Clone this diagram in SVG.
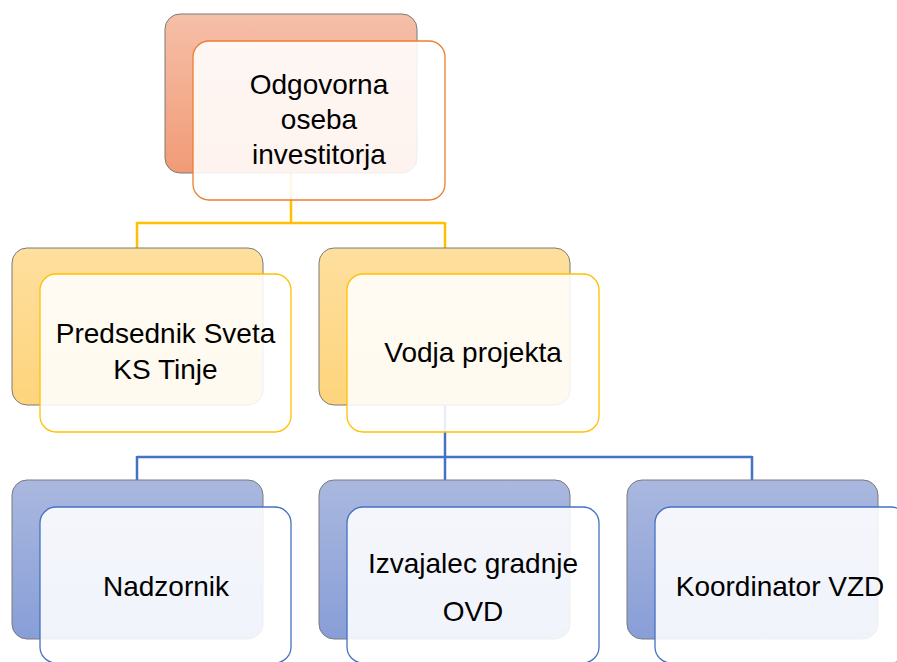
<svg xmlns="http://www.w3.org/2000/svg" width="897" height="662" viewBox="0 0 897 662">
  <defs>
    <linearGradient id="gOrange" x1="0" y1="0" x2="0" y2="1">
      <stop offset="0" stop-color="#F5BFA8"/>
      <stop offset="1" stop-color="#F19B76"/>
    </linearGradient>
    <linearGradient id="gYellow" x1="0" y1="0" x2="0" y2="1">
      <stop offset="0" stop-color="#FEDF9E"/>
      <stop offset="1" stop-color="#FED47C"/>
    </linearGradient>
    <linearGradient id="gBlue" x1="0" y1="0" x2="0" y2="1">
      <stop offset="0" stop-color="#AAB8DF"/>
      <stop offset="1" stop-color="#889ED7"/>
    </linearGradient>
  </defs>
  <style>
    .back { stroke: #7a7a7a; stroke-width: 1; }
    .front { stroke-width: 1.3; fill: #FFFFFF; fill-opacity: 0.88; }
    .o .back { fill: url(#gOrange); }
    .o .front { stroke: #ED7D31; }
    .y .back { fill: url(#gYellow); }
    .y .front { stroke: #FFC000; }
    .b .back { fill: url(#gBlue); }
    .b .front { stroke: #4472C4; }
    .lbl { font-family: "Liberation Sans", Arial, sans-serif; font-size: 28px; fill: #000; text-anchor: middle; }
    .cy { fill: none; stroke: #FFC000; stroke-width: 2.5; }
    .cb { fill: none; stroke: #4472C4; stroke-width: 2.5; }
  </style>

  <g id="connectors">
    <path class="cy" d="M291,173 V223 M137,223 H445 M137,222 V248 M445,222 V248"/>
    <path class="cb" d="M445,405 V457 M137,457 H752 M137,456 V481 M445,456 V481 M752,456 V481"/>
  </g>

  <g id="node-odgovorna" class="o">
    <rect class="back" x="165" y="14" width="252" height="159" rx="15"/>
    <rect class="front" x="193" y="41" width="252" height="159" rx="16"/>
    <text class="lbl" x="319" y="94">Odgovorna</text>
    <text class="lbl" x="319" y="129">oseba</text>
    <text class="lbl" x="319" y="164">investitorja</text>
  </g>

  <g id="node-predsednik" class="y">
    <rect class="back" x="12" y="248" width="251" height="157" rx="15"/>
    <rect class="front" x="40" y="274" width="251" height="158" rx="16"/>
    <text class="lbl" x="165.5" y="343">Predsednik Sveta</text>
    <text class="lbl" x="165.5" y="379">KS Tinje</text>
  </g>

  <g id="node-vodja" class="y">
    <rect class="back" x="319" y="248" width="251" height="157" rx="15"/>
    <rect class="front" x="347" y="274" width="252" height="158" rx="16"/>
    <text class="lbl" x="473" y="362">Vodja projekta</text>
  </g>

  <g id="node-nadzornik" class="b">
    <rect class="back" x="12" y="480" width="251" height="159" rx="15"/>
    <rect class="front" x="40" y="507" width="251" height="156" rx="16"/>
    <text class="lbl" x="166" y="596">Nadzornik</text>
  </g>

  <g id="node-izvajalec" class="b">
    <rect class="back" x="319" y="480" width="251" height="159" rx="15"/>
    <rect class="front" x="347" y="507" width="252" height="156" rx="16"/>
    <text class="lbl" x="473" y="573">Izvajalec gradnje</text>
    <text class="lbl" x="473" y="621">OVD</text>
  </g>

  <g id="node-koordinator" class="b">
    <rect class="back" x="627" y="480" width="251" height="159" rx="15"/>
    <rect class="front" x="655" y="507" width="252" height="156" rx="16"/>
    <text class="lbl" x="780" y="596">Koordinator VZD</text>
  </g>
</svg>
